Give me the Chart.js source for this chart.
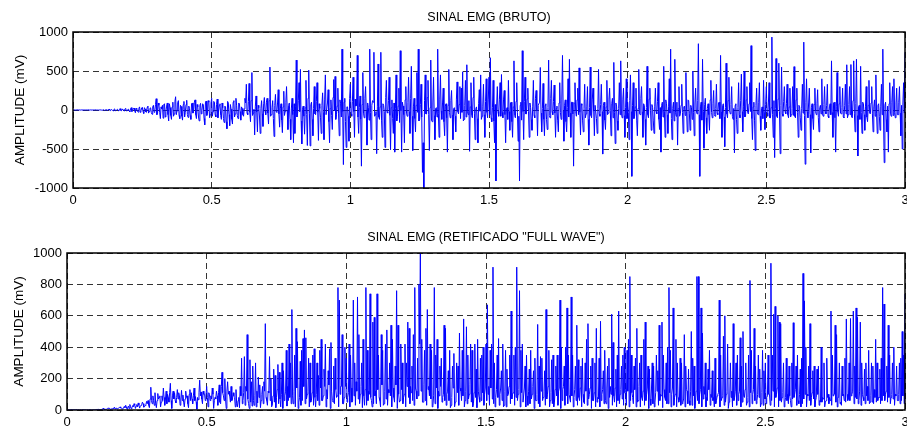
<!DOCTYPE html>
<html>
<head>
<meta charset="utf-8">
<script src="https://cdn.jsdelivr.net/npm/chart.js@4.4.1/dist/chart.umd.min.js"></script>
<style>
  body { margin: 0; overflow: hidden; background: #fff; }
  .painel { position: absolute; left: 0; width: 914px; height: 214px; }
</style>
</head>
<body>
<div class="painel" style="top:0"><canvas id="graficoBruto" width="914" height="214"></canvas></div>
<div class="painel" style="top:214px"><canvas id="graficoRetificado" width="914" height="214"></canvas></div>
<script>
// Sinal EMG bruto (mV), uma amostra a cada 2,5 ms
const periodo = 0.0025; // s

// 0 a 1 s (uma linha = 0,1 s)
const segundo1 = [
  0, -1, 1, 0, -1, 1, 2, -1, -1, 1, 0, -1, 1, 2, -2, 0, 1, -1, 0, 1, -1, 0, 2, -1, -2, 1, 1, -1, 0, 1, -1, 0, 2, 1, -1, 0, 0, -1, 1, 0,
  2, -1, -3, 1, 4, -4, -2, 2, 3, -2, -6, 5, 12, -3, -8, 4, 5, -6, -10, 8, 14, -9, -6, 3, 9, -5, -12, 10, 18, -6, -10, 12, 6, -8, -14, 15, 20, -12, -8, 6,
  10, -12, -22, 15, 30, -20, -5, 18, 25, -10, -35, 22, 8, -15, -28, 20, 40, -30, -10, 25, 35, -20, -45, 30, 12, -25, -30, 35, 50, -40, -18, 22, 28, -35, -55, 40, 60, -30, -15, 70,
  145, -60, -40, 90, 60, -30, -110, 40, 15, 60, -105, 70, 80, -90, -20, 50, 90, -60, -140, 80, 30, -70, -120, 40, 100, -80, -50, 110, 170, -60, -10, 90, 120, -70, -110, 60, 45, -80, -130, 70,
  110, -90, -30, 70, 125, -60, -95, 50, 20, -70, -120, 80, 90, -40, -15, 100, 130, -60, -110, 70, 40, -90, -140, 60, 85, -50, -5, 80, 65, -110, -190, 90, 115, -70, -40, 120, 100, -100, -60, 90,
  150, -80, -20, 110, 100, -60, -90, 70, 140, -100, -10, 60, 80, -70, -120, 90, 30, -110, -160, 50, 40, -150, -240, 110, 90, -60, -200, 70, 10, -120, -180, 100, 120, -90, -50, 150, 60, -70, -110, 90,
  80, -20, -130, 40, 20, -60, -80, 15, 150, 90, 330, -40, -60, 110, 340, -30, -150, 120, 480, -70, -40, 10, -320, 50, 180, -25, -280, 60, 30, -90, -300, 20, 120, -45, -210, 80, 160, -15, -60, 100,
  150, -40, -180, 120, 550, -80, -60, 30, 120, -110, -340, 60, 200, -20, -30, 90, 260, -50, -220, 15, 80, -130, -290, 40, 240, -70, -20, 100, 300, -10, -250, 60, 90, -120, -380, 25, 150, -60, -420, 80,
  -300, 40, 640, -90, -40, 120, 350, -20, 520, -140, -435, 10, 50, -80, -310, 30, 380, -60, -455, 150, 510, -40, -460, 70, 100, -120, -330, 20, 300, -50, -60, 110, 350, -30, -390, 80, 20, -100, -300, 60,
  220, -30, -380, 140, 450, -60, -60, 90, 260, -150, -420, 20, 130, -70, -250, 160, 390, -10, 430, -120, -60, 50, 280, -40, -330, 130, 80, -90, 780, -20, -700, 100, 150, -150, -480, 40, 40, -80, -400, 150
];

// 1 a 2 s
const segundo2 = [
  330, -50, -80, 110, 420, -20, -350, 140, 50, 60, 700, -90, -300, 30, 180, -120, -720, 70, 480, -40, -100, 150, 300, -15, -450, 90, 30, -130, 780, -30, -380, 60, 120, 100, 740, -80, -60, -20, -560, 40,
  590, -90, -120, 40, 740, -130, -350, 80, 60, -20, -480, 160, 380, -30, -40, 120, 420, -70, -510, 30, 130, -110, -300, 90, -540, 20, 450, -140, -80, 50, 280, -160, 760, -10, -540, 100, 50, -60, -420, 130,
  300, -40, -80, 100, 420, -20, -300, 150, 560, -80, -520, 40, 150, -110, -280, 60, 480, -30, 780, -140, -120, 70, 330, -90, -800, -420, -1000, 120, 450, -50, -50, 160, 380, -60, -520, 30, 640, -130, -150, 90,
  420, -70, -380, 20, 30, -90, 780, -40, -350, 140, 450, -10, -120, 90, 280, -150, -330, 50, 80, -100, -540, 60, 520, -30, -100, 120, 250, -60, -380, 15, 30, -80, -280, 140, 360, -20, -50, 70, 300, -110,
  280, -30, 490, -140, -120, 60, 380, -90, 580, -20, -60, 120, -530, 40, 350, -70, -100, 160, 420, -50, -380, 20, 40, -110, -420, 80, 260, -15, 450, -120, -80, 50, 330, -60, -350, 110, 400, -30, -100, 140,
  420, -60, 670, -100, -150, 30, 380, -140, -420, 70, -910, 40, 300, -20, -80, 130, 350, -80, 455, -30, -100, 140, 250, -60, -420, 20, 30, -120, 380, -20, -260, 90, 100, -150, -350, 40, 630, -70, -100, 110,
  350, -30, -400, -80, -910, 60, 100, -130, 760, -20, -380, 110, 420, -50, -50, 140, 280, -20, -350, 90, 30, -120, -260, 40, 380, -70, -100, 150, 250, -10, -330, 60, 60, 100, 545, -40, -280, 20, 340, -120,
  -330, 60, 80, -120, -250, 30, 640, -70, -100, 150, 380, -20, -60, 110, 320, -40, -350, 20, 50, -130, -280, 90, 350, -30, -120, 140, 700, -10, -400, 60, 130, -150, -280, 30, 400, -90, 650, -40, -350, 100,
  100, -50, -720, 90, 350, -20, -80, 130, 280, -60, 540, -30, -320, 80, 60, -140, -280, 20, 330, -100, -50, 40, 300, -120, -450, 30, 550, -70, -100, 140, 280, -10, -330, 60, 60, -110, -300, 20, 520, -50,
  -80, 70, 330, -20, -565, 60, 100, -130, -250, 40, 380, -60, -40, 140, 280, -10, -330, 80, 150, -100, 610, -30, -430, 90, 50, -140, -260, 20, 350, -60, 630, -40, -100, 130, 280, -70, -350, 30, 400, -110
];

// 2 a 3 s
const segundo3 = [
  100, -30, -380, 120, 450, -20, -850, 60, 350, -110, -80, 40, 280, -130, -330, 20, 520, -50, -60, 150, 300, -20, -350, 80, 60, -120, -450, 30, 560, -60, -100, 140, 280, -10, -260, 70, 30, -140, -300, 40,
  280, -20, -50, 110, 350, -120, -250, 30, -540, 60, 100, -90, 560, -15, -350, 130, 80, -60, -300, 40, 400, -40, 780, -110, -380, 20, 100, -140, 650, -30, -80, 100, -450, 20, 300, -80, -50, 60, 330, -30,
  -300, 40, 50, -70, 480, -20, -280, 130, 120, -40, -260, 60, 30, -120, 500, -30, -330, 90, 280, -10, -50, 120, 850, -60, -850, 40, 100, -130, 650, -20, -490, 70, 150, -100, -300, 20, 80, -60, -260, 130,
  380, -30, -100, 80, 250, -60, -80, 20, 330, -40, -60, 90, 100, -110, 700, -20, -350, 60, 80, -90, -470, 30, 600, -50, -100, 120, 420, -10, -50, 70, 300, -80, -120, 20, -550, 60, 80, -120, -300, 30,
  350, -60, -100, 120, 460, -20, -280, 50, 500, -90, -80, 130, 300, -30, -50, 80, 350, -20, 825, -110, -380, 40, 100, -130, -520, 60, 280, -40, -60, 100, 350, -80, -260, 20, 40, -110, 380, -30, -250, 70,
  300, -40, -80, 90, 350, -100, -100, 30, 935, -60, -350, 120, -610, 20, 660, -80, -100, 140, 600, -20, -560, 60, 550, -50, -80, 110, 300, -20, -50, 80, 330, -60, -100, 40, 280, -90, -60, 20, 300, -70,
  556, -80, -100, 130, 280, -30, -350, 60, 40, -100, -260, 20, 330, -40, 870, -70, -695, 100, 400, -20, -100, 90, 280, -60, -550, 30, 80, -110, -250, 70, 280, -20, -60, 80, 260, -100, -280, 30, 60, -50,
  400, -50, -80, 70, 300, -20, -50, 60, 330, -80, -100, 40, 80, -60, 630, -30, -350, 90, 100, -100, -540, 50, 480, -20, -80, 80, 300, -40, -50, 30, 280, -90, -100, 60, 330, -50, 580, -100, -60, 70,
  300, -60, 583, -90, -100, 120, 630, -40, -280, 80, 650, -70, -590, 40, 60, -120, 560, -30, -300, 100, 80, -60, -260, 40, 300, -90, -150, 60, 380, -40, -50, 90, 300, -50, -280, 40, 130, -80, 450, -50,
  -300, 60, 80, -80, -260, 40, 330, -60, 780, -90, -675, 60, 100, -120, -280, 50, -540, 80, 350, -40, -80, 100, 300, -70, 400, -30, -100, 90, 280, -60, -60, 100, 300, -40, -330, 60, -500, 90, 350, -40,
  740
];

const tituloBruto = 'SINAL EMG (BRUTO)';
const tituloRetificado = 'SINAL EMG (RETIFICADO "FULL WAVE")';
const tituloEixoY = 'AMPLITUDE (mV)';

const sinal = [...segundo1, ...segundo2, ...segundo3];
const pontosBruto = sinal.map((v, i) => ({ x: i * periodo, y: v }));
// retificacao de onda completa = valor absoluto do sinal bruto
const pontosRetificado = sinal.map((v, i) => ({ x: i * periodo, y: Math.abs(v) }));

Chart.defaults.font.family = '"Liberation Sans", Arial, sans-serif';
Chart.defaults.color = '#000';

// caixa preta em volta da area e titulo centrado sobre os eixos
const caixaTitulo = {
  id: 'caixaTitulo',
  afterDraw(chart, args, opts) {
    const { ctx, chartArea: a } = chart;
    ctx.save();
    ctx.strokeStyle = '#000';
    ctx.lineWidth = 1.5;
    ctx.strokeRect(a.left, a.top, a.right - a.left, a.bottom - a.top);
    ctx.fillStyle = '#000';
    ctx.font = '12.5px "Liberation Sans", Arial, sans-serif';
    ctx.textAlign = 'center';
    ctx.fillText(opts.texto, (a.left + a.right) / 2, opts.y);
    ctx.restore();
  }
};

const criarGrafico = (id, pontos, cfg) => {
  const ctx = document.getElementById(id).getContext('2d');
  return new Chart(ctx, {
    type: 'line',
    data: {
      datasets: [{
        data: pontos,
        borderColor: '#0000ff',
        borderWidth: 1,
        pointRadius: 0,
        tension: 0,
      }],
    },
    options: {
      responsive: false,
      animation: false,
      events: [],
      layout: { padding: { top: cfg.topo, right: 9, bottom: 0, left: 0 } },
      plugins: {
        legend: { display: false },
        tooltip: { enabled: false },
        caixaTitulo: { texto: cfg.titulo, y: cfg.yTitulo },
      },
      scales: {
        x: {
          type: 'linear',
          min: 0,
          max: 3,
          afterFit: (s) => { s.height = cfg.alturaX; },
          ticks: { stepSize: 0.5, padding: 5, maxRotation: 0, font: { size: 13 }, callback: (v) => String(v) },
          grid: { color: '#333', lineWidth: 1, drawTicks: false },
          border: { display: false, dash: [6, 4] },
        },
        y: {
          min: cfg.yMin,
          max: 1000,
          afterFit: (s) => { s.width = cfg.larguraY; },
          ticks: { stepSize: cfg.passoY, padding: 5, font: { size: 13 }, callback: (v) => String(v) },
          grid: { color: '#333', lineWidth: 1, drawTicks: false },
          border: { display: false, dash: [6, 4] },
          title: { display: true, text: tituloEixoY, font: { size: 13.5 }, padding: { top: cfg.padTituloY, bottom: 0 } },
        },
      },
    },
    plugins: [caixaTitulo],
  });
};

criarGrafico('graficoBruto', pontosBruto, {
  titulo: tituloBruto, yTitulo: 21, topo: 32, alturaX: 26, larguraY: 73,
  yMin: -1000, passoY: 500, padTituloY: 12,
});

criarGrafico('graficoRetificado', pontosRetificado, {
  titulo: tituloRetificado, yTitulo: 27, topo: 39, alturaX: 18, larguraY: 67,
  yMin: 0, passoY: 200, padTituloY: 11,
});
</script>
</body>
</html>
